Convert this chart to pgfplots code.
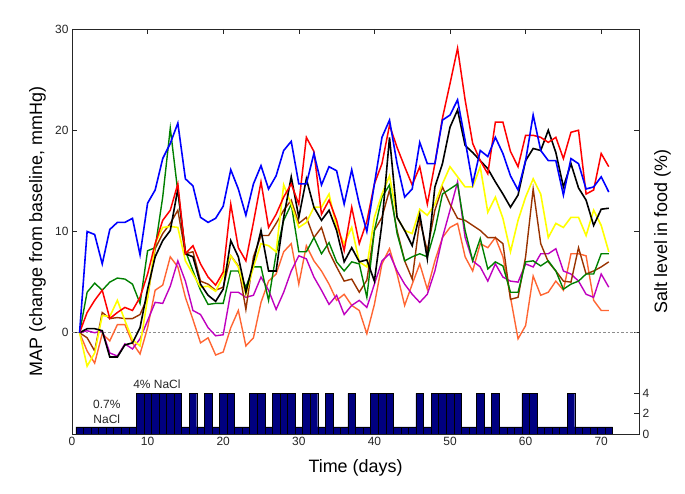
\documentclass[border=0pt]{standalone}
\usepackage{fontspec}
\setmainfont{Liberation Sans}
\usepackage{pgfplots}
\usepackage{pgfplotstable}
\pgfplotsset{compat=1.18}
\definecolor{mblue}{RGB}{0,0,255}
\definecolor{mred}{RGB}{255,0,0}
\definecolor{myellow}{RGB}{255,255,0}
\definecolor{mgreen}{RGB}{0,128,0}
\definecolor{mbrown}{RGB}{153,51,0}
\definecolor{mmag}{RGB}{191,0,191}
\definecolor{mcoral}{RGB}{255,102,51}
\definecolor{mnavy}{RGB}{0,0,128}
\definecolor{axgray}{RGB}{38,38,38}

\pgfplotstableread{
day blue red black yellow green brown magenta coral
1 0 0 0 0 0 0 0 0
2 10.0 2.0 0.4 -3.3 4.0 -0.5 0.2 -1.8
3 9.7 3.2 0.4 -2.0 4.9 -1.8 0.0 -3.0
4 6.8 4.2 0.2 1.7 4.2 2.0 0.2 -0.1
5 10.2 1.4 -2.4 1.6 5.0 1.4 -2.0 -0.8
6 10.9 2.0 -2.4 3.2 5.4 1.5 -2.3 0.8
7 10.9 2.5 -1.2 1.2 5.3 1.4 -1.1 0.8
8 11.3 2.2 -1.0 -0.7 4.8 1.4 -1.6 -1.0
9 7.7 3.5 0.5 -1.3 2.9 1.8 -0.6 -2.1
10 12.8 5.8 4.3 3.4 8.1 3.5 1.2 0.5
11 14.1 8.8 7.5 8.8 8.4 8.3 3.0 4.2
12 17.2 11.1 9.1 10.4 13.4 9.8 2.9 4.7
13 18.7 12.1 10.1 10.5 20.2 10.8 4.6 7.5
14 20.7 14.7 14.2 10.4 13.9 12.1 7.1 6.5
15 15.2 7.8 7.8 7.1 8.1 7.8 5.1 3.5
16 14.5 8.6 7.5 5.8 6.1 8.0 2.2 1.3
17 11.4 6.8 4.8 4.5 4.2 5.1 1.8 -1.0
18 10.9 5.5 3.7 4.6 2.8 4.8 0.5 -0.5
19 11.3 4.7 3.1 4.1 2.9 4.2 -0.3 -2.2
20 12.5 6.0 4.3 5.6 2.9 4.5 -0.2 -1.9
21 16.1 12.7 9.1 7.6 6.1 7.6 4.0 0.5
22 14.2 8.4 7.5 6.5 6.1 6.6 4.0 2.2
23 11.6 7.1 4.0 3.8 4.5 2.3 3.5 -1.3
24 14.7 10.9 7.0 6.5 6.5 7.5 3.7 -0.5
25 16.5 14.9 10.1 8.8 6.5 9.6 5.5 3.0
26 14.2 10.4 6.1 8.6 3.2 9.6 4.2 5.1
27 15.5 11.7 6.1 8.0 7.8 10.8 2.3 5.8
28 18.0 13.4 11.4 14.6 11.1 12.1 4.0 8.0
29 18.9 14.7 15.4 12.7 12.7 13.1 6.1 8.8
30 14.7 12.7 11.4 10.4 8.0 10.8 7.6 4.8
31 14.7 19.3 15.2 10.9 8.0 11.4 7.3 8.6
32 17.7 17.9 12.4 12.4 9.4 9.4 5.5 7.1
33 14.6 11.7 11.1 12.4 7.8 10.4 4.2 6.1
34 16.4 13.1 12.1 13.7 8.9 8.0 2.8 4.8
35 16.0 11.1 10.1 10.4 7.0 6.5 3.7 3.2
36 12.7 8.1 7.0 8.8 6.1 5.1 1.8 3.8
37 16.1 12.4 8.4 10.4 7.0 5.3 2.7 2.7
38 12.7 8.8 7.0 7.0 6.8 4.0 3.2 2.2
39 10.0 11.0 7.2 6.5 3.5 5.2 2.5 -0.1
40 14.7 14.7 5.1 11.4 10.1 10.1 4.8 2.8
41 19.3 16.7 10.8 13.7 13.4 11.4 7.1 6.8
42 21.0 20.5 19.3 15.5 14.6 14.1 7.8 8.3
43 16.7 18.3 11.4 11.4 9.8 10.1 6.1 5.8
44 13.4 16.4 10.1 10.1 7.1 7.1 4.8 2.7
45 14.2 14.6 8.6 9.8 7.5 5.3 3.8 4.8
46 18.8 16.4 11.7 12.2 7.8 11.1 3.0 6.8
47 16.7 12.7 7.3 11.6 7.5 8.1 3.8 4.3
48 16.7 16.7 14.4 12.7 10.1 12.1 6.1 7.1
49 21.0 21.2 16.7 14.7 13.7 14.4 9.4 9.4
50 21.5 24.6 20.3 16.4 14.2 12.7 12.1 10.4
51 23.0 28.1 22.0 15.4 14.7 11.3 14.9 10.8
52 19.0 23.0 18.5 14.4 10.1 11.1 9.4 7.5
53 14.7 18.7 17.8 14.4 7.1 10.6 7.1 6.1
54 18.0 17.0 17.0 16.4 9.3 10.1 6.5 8.8
55 17.4 15.7 16.2 11.9 6.3 9.4 5.1 8.4
56 19.3 20.8 14.9 13.4 7.0 9.4 6.8 9.4
57 17.7 20.8 13.7 11.3 6.6 8.8 5.5 7.5
58 15.5 17.9 12.4 8.0 4.0 3.3 5.1 3.5
59 14.1 16.4 13.6 11.1 4.0 3.5 5.0 -0.6
60 17.0 19.5 17.0 13.4 7.0 7.5 6.8 0.7
61 21.5 19.5 18.2 15.2 7.1 14.2 6.5 5.6
62 18.0 19.3 18.0 13.7 6.6 8.8 7.8 3.7
63 17.0 18.8 20.0 9.4 7.1 7.0 7.8 4.0
64 17.0 19.3 17.8 10.8 6.1 6.1 8.3 5.1
65 13.6 17.2 14.4 10.4 4.3 5.1 6.1 4.2
66 17.2 19.8 16.7 11.4 4.8 5.0 5.8 7.8
67 16.7 20.0 14.3 11.4 5.1 8.4 5.1 7.8
68 14.2 13.7 13.1 9.6 5.8 5.8 3.8 7.6
69 14.4 14.1 10.6 12.1 5.8 6.1 3.5 3.2
70 15.4 17.7 12.2 10.6 7.8 6.5 5.8 2.2
71 13.9 16.4 12.3 8.0 7.8 7.0 4.5 2.2
}\mapdata

\pgfplotstableread{
day salt
1 0.7
2 0.7
3 0.7
4 0.7
5 0.7
6 0.7
7 0.7
8 0.7
9 4
10 4
11 4
12 4
13 4
14 4
15 0.7
16 4
17 0.7
18 4
19 0.7
20 4
21 4
22 0.7
23 0.7
24 4
25 4
26 0.7
27 4
28 4
29 4
30 0.7
31 4
32 4
33 0.7
34 4
35 0.7
36 0.7
37 4
38 0.7
39 0.7
40 4
41 4
42 4
43 0.7
44 0.7
45 0.7
46 4
47 0.7
48 4
49 4
50 4
51 4
52 0.7
53 0.7
54 4
55 0.7
56 4
57 0.7
58 0.7
59 0.7
60 4
61 4
62 0.7
63 0.7
64 0.7
65 0.7
66 4
67 0.7
68 0.7
69 0.7
70 0.7
71 0.7
}\saltdata

\begin{document}
\begin{tikzpicture}
\begin{axis}[
  name=main,
  scale only axis, width=567bp, height=405bp,
  xmin=0, xmax=75, ymin=-10, ymax=30,
  xtick={0,10,...,70}, ytick={0,10,20,30},
  tick align=inside, major tick length=5bp,
  axis line style={axgray, line width=0.6bp},
  every tick/.style={axgray, line width=0.6bp},
  tick label style={font=\fontsize{12}{14}\selectfont, text=axgray},
  /pgf/number format/assume math mode=true,
  xlabel={Time (days)}, ylabel={MAP (change from baseline, mmHg)},
  label style={font=\fontsize{18}{21}\selectfont},
  xlabel style={at={(axis description cs:0.5,0)}, anchor=base, yshift=-38bp, inner sep=0pt},
  ylabel style={at={(axis description cs:-0.0529,0.5)}, anchor=base, inner sep=0pt},
]
\addplot[black!45, dash pattern=on 2.5bp off 2bp, line width=0.6bp, forget plot] coordinates {(0,0) (75,0)};
\addplot[mcoral, line width=1.4bp] table[x=day, y=coral] {\mapdata};
\addplot[mmag, line width=1.4bp] table[x=day, y=magenta] {\mapdata};
\addplot[mbrown, line width=1.4bp] table[x=day, y=brown] {\mapdata};
\addplot[mgreen, line width=1.4bp] table[x=day, y=green] {\mapdata};
\addplot[myellow, line width=1.6bp] table[x=day, y=yellow] {\mapdata};
\addplot[black, line width=1.6bp] table[x=day, y=black] {\mapdata};
\addplot[mred, line width=1.5bp] table[x=day, y=red] {\mapdata};
\addplot[mblue, line width=1.6bp] table[x=day, y=blue] {\mapdata};
\end{axis}
\begin{axis}[
  scale only axis, width=567bp, height=405bp,
  xmin=0, xmax=75, ymin=0, ymax=40,
  axis x line=none, axis y line*=right,
  ytick={0,2,4},
  tick align=inside, major tick length=5bp,
  axis line style={axgray, line width=0.6bp},
  every tick/.style={axgray, line width=0.6bp},
  tick label style={font=\fontsize{12}{14}\selectfont, text=axgray},
  /pgf/number format/assume math mode=true,
  ylabel={Salt level in food (\%)},
  label style={font=\fontsize{18}{21}\selectfont},
  ylabel style={at={(axis description cs:1.0494,0.5)}, anchor=base, inner sep=0pt},
  ybar, bar width=1,
]
\addplot[fill=mnavy, draw=black, line width=0.4bp, bar shift=0pt] table[x=day, y=salt] {\saltdata};
\node[anchor=base, inner sep=0pt, font=\fontsize{12}{14}\selectfont, text=axgray] at (axis cs:11.23,4.52) {4\% NaCl};
\node[anchor=base, inner sep=0pt, font=\fontsize{12}{14}\selectfont, text=axgray] at (axis cs:4.6,2.54) {0.7\%};
\node[anchor=base, inner sep=0pt, font=\fontsize{12}{14}\selectfont, text=axgray] at (axis cs:4.6,1.06) {NaCl};
\end{axis}
\pgfresetboundingbox
\path[use as bounding box] ([xshift=-72bp,yshift=-60bp]main.south west) rectangle ([xshift=46bp,yshift=29bp]main.north east);
\end{tikzpicture}
\end{document}
